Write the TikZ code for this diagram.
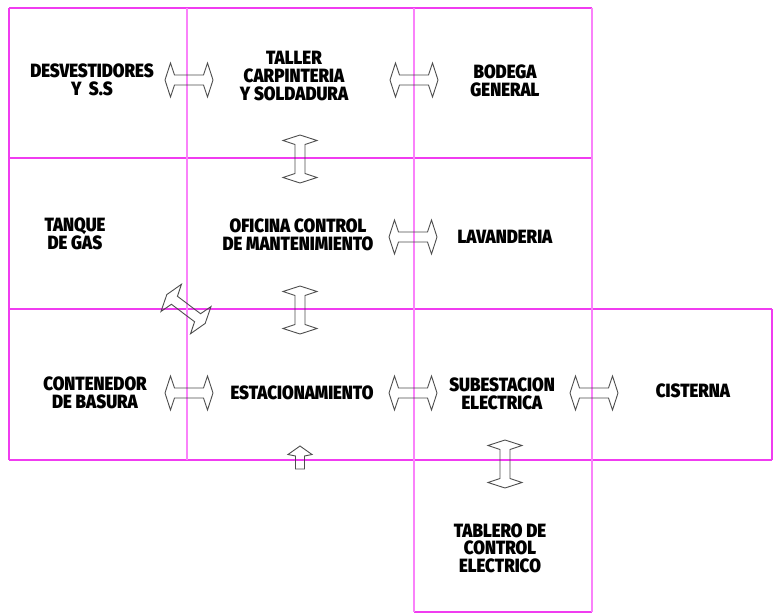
\documentclass[tikz,border=0pt]{standalone}
\usepackage{fontspec}
\IfFontExistsTF{Fira Sans Black}
  {\newfontfamily\roomfont{Fira Sans Black}[FakeStretch=0.88]}
  {\IfFontExistsTF{Lato Black}
    {\newfontfamily\roomfont{Lato Black}[FakeStretch=0.88]}
    {\newfontfamily\roomfont{Liberation Sans Bold}[FakeStretch=0.86,FakeBold=3]}}
\usetikzlibrary{positioning}

\definecolor{wallmag}{RGB}{240,60,240}
\definecolor{wallpink}{RGB}{250,130,250}

\tikzset{
  room/.style={font=\roomfont\fontsize{9.6}{8.8}\selectfont, align=center, inner sep=0pt},
  wall/.style={draw=wallmag, line width=0.6pt},
  widewall/.style={draw=wallpink, line width=1.1pt},
  arrowline/.style={draw=black!70, line width=0.45pt, line join=miter},
  dblarrow/.pic={
    \draw[arrowline] (-24,0) -- (-18.5,-17) -- (-14.5,-5) -- (14.5,-5) -- (18.5,-17)
      -- (24,0) -- (18.5,17) -- (14.5,5) -- (-14.5,5) -- (-18.5,17) -- cycle;
  },
  uparrow/.pic={
    \draw[arrowline] (0,-11.5) -- (12,-3) -- (4.5,-1.5) -- (4.5,11.5) -- (-4.5,11.5)
      -- (-4.5,-1.5) -- (-12,-3) -- cycle;
  }
}

\begin{document}
\begin{tikzpicture}[x=0.5pt,y=-0.5pt]
  \useasboundingbox (0,0) rectangle (778,616);
  % walls
  \draw[wall] (9,8) -- (592,8);
  \draw[wall] (9,158) -- (592,158);
  \draw[wall] (9,309) -- (772,309);
  \draw[wall] (9,460) -- (772,460);
  \draw[wall] (414,612) -- (592,612);
  \draw[wall] (9,8) -- (9,460);
  \draw[wall] (772,309) -- (772,460);
  \draw[widewall] (187,8) -- (187,460);
  \draw[widewall] (414,8) -- (414,612);
  \draw[widewall] (592,8) -- (592,612);

  % rooms
  \node[room] (desv) at (92,80) {DESVESTIDORES\\Y~~S.S};
  \node[room] (taller) at (294,76) {TALLER\\CARPINTERIA\\Y SOLDADURA};
  \node[room] (bodega) at (505,81) {BODEGA\\GENERAL};
  \node[room] (tanque) at (75,234) {TANQUE\\DE GAS};
  \node[room] (oficina) at (298,235) {OFICINA CONTROL\\DE MANTENIMIENTO};
  \node[room] (lavand) at (505,237) {LAVANDERIA};
  \node[room] (conten) at (95,393) {CONTENEDOR\\DE BASURA};
  \node[room] (estac) at (302,393) {ESTACIONAMIENTO};
  \node[room] (subest) at (502,394) {SUBESTACION\\ELECTRICA};
  \node[room] (cist) at (693,391) {CISTERNA};
  \node[room] (tablero) at (500,548) {TABLERO DE\\CONTROL\\ELECTRICO};

  % links
  \pic (desvtaller) at (189,80) {dblarrow};
  \pic (tallerbodega) at (414,80) {dblarrow};
  \pic[rotate=90] (talleroficina) at (300,159) {dblarrow};
  \pic (oficinalavand) at (413,237) {dblarrow};
  \pic[rotate=90] (oficinaestac) at (300,310) {dblarrow};
  \pic[rotate=-37] (tanqueestac) at (186,309) {dblarrow};
  \pic (contenestac) at (189,393) {dblarrow};
  \pic (estacsubest) at (413,393) {dblarrow};
  \pic (subestcist) at (594,393) {dblarrow};
  \pic[rotate=90] (subesttablero) at (505,464) {dblarrow};
  \pic (acceso) at (300,457.5) {uparrow};
\end{tikzpicture}
\end{document}
